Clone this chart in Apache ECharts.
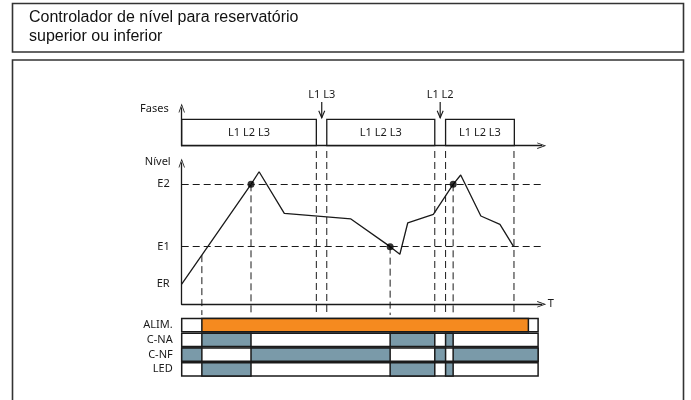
<!DOCTYPE html>
<html><head><meta charset="utf-8">
<script src="https://cdn.jsdelivr.net/npm/echarts@6/dist/echarts.min.js"></script>
<style>html,body{margin:0;padding:0;background:#fff}#c{width:691px;height:400px}</style>
</head><body><div id="c"></div>
<script>
// ---------- DATA ----------
const titleText = 'Controlador de nível para reservatório\nsuperior ou inferior';

// Phases strip (time units 0..100)
const phaseStart = [0, 40.3, 73.3];
const phaseEnd = [37.4, 70.3, 92.4];
const phaseLabels = ['L1 L2 L3', 'L1 L2 L3', 'L1 L2 L3'];
const phaseLossT = [38.9, 71.8];
const phaseLossLabels = ['L1 L3', 'L1 L2'];

// Level curve
const levelT = [0, 19.25, 21.5, 28.5, 47.0, 57.9, 60.6, 62.8, 69.9, 75.4, 77.5, 83.1, 88.4, 92.2];
const levelV = [14.2, 84.9, 93.8, 64.4, 60.4, 40.8, 35.4, 57.7, 63.7, 84.9, 91.5, 62.5, 56.6, 40.8];
const thresholdNames = ['ER', 'E1', 'E2'];
const thresholdValues = [14.2, 40.8, 84.9];
const switchT = [19.25, 57.9, 75.4];
const switchV = [84.9, 40.8, 84.9];

// Vertical guide lines (time, from level, to level)
const guideT    = [5.6, 19.25, 37.4, 40.3, 57.9, 70.3, 73.3, 75.4, 92.3];
const guideFrom = [34.8, 84.9, 108.5, 108.5, 40.8, 108.5, 108.5, 84.9, 108.5];
const guideTo   = [-7.6, -7.6, -7.6, -7.6, -7.6, -7.6, -7.6, -7.6, -7.6];

// State rows
const stateRows = ['ALIM.', 'C-NA', 'C-NF', 'LED'];
const stateEnd = 99;
const alimOn = [[5.6, 96.3]];
const cnaOn = [[5.6, 19.25], [57.9, 70.3], [73.3, 75.4]];
const cnfOn = [[0, 5.6], [19.25, 57.9], [70.3, 73.3], [75.4, 99]];
const ledOn = [[5.6, 19.25], [57.9, 70.3], [73.3, 75.4]];

// ---------- CHART ----------
const FONT = '"Noto Sans", "Open Sans", sans-serif';
const FS = 11;
const INK = '#1a1a1a';
const ORANGE = '#F58A1F';
const BLUE = '#7A9AA9';
const chevron = 'path://M0,14 L5,0 L10,14 L8.7,14 L5,3.6 L1.3,14 Z';

const stateData = [];
const onLists = [alimOn, cnaOn, cnfOn, ledOn];
stateRows.forEach((r, i) => stateData.push([0, stateEnd, i, 0]));
onLists.forEach((lst, i) => lst.forEach(seg => stateData.push([seg[0], seg[1], i, 1])));

const guideData = guideT.map((t, i) => [t, guideFrom[i], guideTo[i]]);
const levelData = levelT.map((t, i) => [t, levelV[i]]);
const switchData = switchT.map((t, i) => [t, switchV[i]]);
const phaseData = phaseStart.map((s, i) => [s, phaseEnd[i], phaseLabels[i]]);
const lossData = phaseLossT.map((t, i) => [t, 0, phaseLossLabels[i]]);

const axisLineArrow = {
  show: true,
  lineStyle: { color: INK, width: 1.3 },
  symbol: ['none', chevron],
  symbolSize: [7, 9]
};

const chart = echarts.init(document.getElementById('c'), null, { renderer: 'canvas' });
chart.setOption({
  animation: false,
  backgroundColor: '#fff',
  title: {
    text: titleText,
    left: 29, top: 8.5, padding: 0,
    textStyle: { fontFamily: '"Liberation Sans", Arial, sans-serif', fontSize: 16, fontWeight: 'normal', color: '#111', lineHeight: 19 }
  },
  graphic: [
    { type: 'rect', z: -10, shape: { x: 12.5, y: 3.5, width: 671, height: 48.5 }, style: { fill: 'none', stroke: '#333', lineWidth: 1.6 } },
    { type: 'rect', z: -10, shape: { x: 12.5, y: 60, width: 671, height: 360 }, style: { fill: 'none', stroke: '#333', lineWidth: 1.6 } }
  ],
  grid: [
    { left: 181.7, width: 360, top: 108, height: 37.7 },
    { left: 181.7, width: 360, top: 163, height: 141.3 },
    { left: 181.7, width: 360, top: 317.7, height: 59 }
  ],
  xAxis: [
    { gridIndex: 0, type: 'value', min: 0, max: 100, axisLine: axisLineArrow, axisTick: { show: false }, axisLabel: { show: false }, splitLine: { show: false } },
    { gridIndex: 1, type: 'value', min: 0, max: 100, axisLine: axisLineArrow, axisTick: { show: false }, axisLabel: { show: false }, splitLine: { show: false },
      name: 'T', nameLocation: 'end', nameGap: 6, nameTextStyle: { fontFamily: FONT, fontSize: FS, color: INK } },
    { gridIndex: 2, type: 'value', min: 0, max: 100, show: false }
  ],
  yAxis: [
    { gridIndex: 0, type: 'value', min: 0, max: 100, axisLine: axisLineArrow, axisTick: { show: false }, axisLabel: { show: false }, splitLine: { show: false },
      name: 'Fases', nameLocation: 'end', nameGap: -1,
      nameTextStyle: { fontFamily: FONT, fontSize: FS, color: INK, align: 'right', verticalAlign: 'middle', padding: [0, 13, 0, 0] } },
    { gridIndex: 1, type: 'value', min: 0, max: 100, axisLine: axisLineArrow, axisTick: { show: false }, splitLine: { show: false },
      axisLabel: {
        show: true, customValues: thresholdValues, margin: 12,
        fontFamily: FONT, fontSize: FS, color: INK,
        formatter: v => {
          let best = 0;
          thresholdValues.forEach((tv, i) => { if (Math.abs(tv - v) < Math.abs(thresholdValues[best] - v)) best = i; });
          return thresholdNames[best];
        }
      },
      name: 'Nível', nameLocation: 'end', nameGap: 1,
      nameTextStyle: { fontFamily: FONT, fontSize: FS, color: INK, align: 'right', verticalAlign: 'middle', padding: [0, 11, 0, 0] } },
    { gridIndex: 2, type: 'category', inverse: true, data: stateRows,
      axisLine: { show: false }, axisTick: { show: false }, splitLine: { show: false },
      axisLabel: { margin: 9, fontFamily: FONT, fontSize: FS, color: INK } }
  ],
  series: [
    { // phase boxes
      type: 'custom', xAxisIndex: 0, yAxisIndex: 0, data: phaseData, encode: { x: [0, 1] },
      renderItem: (params, api) => {
        const p1 = api.coord([api.value(0), 70]);
        const p2 = api.coord([api.value(1), 0]);
        return {
          type: 'group', children: [
            { type: 'rect', shape: { x: p1[0], y: p1[1], width: p2[0] - p1[0], height: p2[1] - p1[1] },
              style: { fill: 'none', stroke: INK, lineWidth: 1.3 } },
            { type: 'text', style: { text: phaseLabels[params.dataIndex], x: (p1[0] + p2[0]) / 2, y: (p1[1] + p2[1]) / 2,
              align: 'center', verticalAlign: 'middle', font: FS + 'px ' + FONT, fill: INK } }
          ]
        };
      }
    },
    { // phase loss arrows
      type: 'custom', xAxisIndex: 0, yAxisIndex: 0, data: lossData, encode: { x: 0 },
      renderItem: (params, api) => {
        const t = api.value(0);
        const top = api.coord([t, 116]);
        const tip = api.coord([t, 74]);
        const lab = api.coord([t, 134]);
        return {
          type: 'group', children: [
            { type: 'line', shape: { x1: top[0], y1: top[1], x2: tip[0], y2: tip[1] }, style: { stroke: INK, lineWidth: 1.2 } },
            { type: 'polyline', shape: { points: [[tip[0] - 3, tip[1] - 7], [tip[0], tip[1]], [tip[0] + 3, tip[1] - 7]] }, style: { stroke: INK, lineWidth: 1.1, fill: 'none' } },
            { type: 'text', style: { text: phaseLossLabels[params.dataIndex], x: lab[0], y: lab[1], align: 'center', verticalAlign: 'middle', font: FS + 'px ' + FONT, fill: INK } }
          ]
        };
      }
    },
    { // vertical guides
      type: 'custom', xAxisIndex: 1, yAxisIndex: 1, data: guideData, encode: { x: 0, y: [1, 2] }, clip: false, z: 1,
      renderItem: (params, api) => {
        const p1 = api.coord([api.value(0), api.value(1)]);
        const p2 = api.coord([api.value(0), api.value(2)]);
        return { type: 'line', shape: { x1: p1[0], y1: p1[1], x2: p2[0], y2: p2[1] }, style: { stroke: INK, lineWidth: 1, lineDash: [7, 4] } };
      }
    },
    { // level line
      type: 'line', xAxisIndex: 1, yAxisIndex: 1, data: levelData, showSymbol: false, z: 3,
      lineStyle: { color: INK, width: 1.3 },
      markLine: {
        silent: true, symbol: 'none', label: { show: false },
        lineStyle: { color: INK, width: 1, type: [7, 4] },
        data: thresholdValues.slice(1).map(v => ({ yAxis: v }))
      }
    },
    { // switching points
      type: 'scatter', xAxisIndex: 1, yAxisIndex: 1, data: switchData, symbolSize: 7, z: 4,
      itemStyle: { color: '#000' }
    },
    { // state bars
      type: 'custom', xAxisIndex: 2, yAxisIndex: 2, data: stateData, encode: { x: [0, 1], y: 2 },
      renderItem: (params, api) => {
        const row = api.value(2);
        const on = api.value(3);
        const p1 = api.coord([api.value(0), row]);
        const p2 = api.coord([api.value(1), row]);
        const h = api.size([0, 1])[1] * 0.9;
        return { type: 'rect', shape: { x: p1[0], y: p1[1] - h / 2, width: p2[0] - p1[0], height: h },
          style: { fill: on ? (row === 0 ? ORANGE : BLUE) : '#fff', stroke: INK, lineWidth: 1.5 } };
      }
    }
  ]
});
</script></body></html>
